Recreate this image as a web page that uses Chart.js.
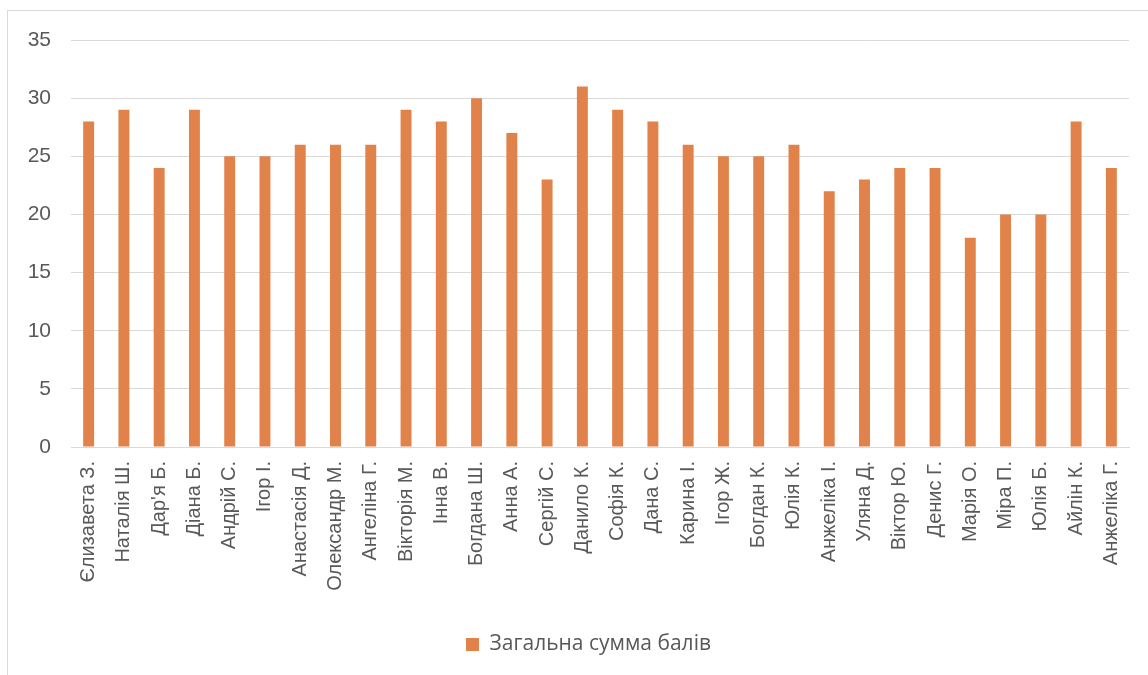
<!DOCTYPE html>
<html>
<head>
<meta charset="utf-8">
<script src="https://cdn.jsdelivr.net/npm/chart.js@4"></script>
<style>
  html, body { margin: 0; padding: 0; background: #fff; overflow: hidden; }
  #box {
    position: absolute; left: 7px; top: 10px;
    width: 1140px; height: 670px;
    border: 1px solid #d9d9d9;
  }
  #box canvas { display: block; }
</style>
</head>
<body>
<div id="box"><canvas id="myChart" width="1140" height="670"></canvas></div>
<script>
let names = ["Єлизавета З.", "Наталія Ш.", "Дар'я Б.", "Діана Б.", "Андрій С.", "Ігор І.",
  "Анастасія Д.", "Олександр М.", "Ангеліна Г.", "Вікторія М.", "Інна В.", "Богдана Ш.",
  "Анна А.", "Сергій С.", "Данило К.", "Софія К.", "Дана С.", "Карина І.", "Ігор Ж.",
  "Богдан К.", "Юлія К.", "Анжеліка І.", "Уляна Д.", "Віктор Ю.", "Денис Г.", "Марія О.",
  "Міра П.", "Юлія Б.", "Айлін К.", "Анжеліка Г."]
let scores = [28, 29, 24, 29, 25, 25, 26, 26, 26, 29, 28, 30, 27, 23, 31, 29, 28, 26, 25,
  25, 26, 22, 23, 24, 24, 18, 20, 20, 28, 24]
let yTicks = [0, 5, 10, 15, 20, 25, 30, 35]
let seriesName = 'Загальна сумма балів'

// legend sits a little right of centre
let legendShift = {
    id: 'legendShift',
    afterLayout: function (chart) {
        chart.legend.left += 20
        chart.legend.right += 20
    }
}

let ctx = document.getElementById('myChart').getContext('2d')

let chart = new Chart(ctx, {
    type: 'bar',
    data: {
        labels: names,
        datasets: [{
            label: seriesName,
            data: scores,
            backgroundColor: '#e0824a',
            barPercentage: 0.31,
            categoryPercentage: 1
        }]
    },
    options: {
        responsive: false,
        animation: false,
        layout: { padding: { top: 29, right: 19, bottom: 16, left: 0 } },
        plugins: {
            tooltip: { enabled: false },
            legend: {
                position: 'bottom',
                labels: {
                    boxWidth: 13, boxHeight: 13, padding: 10,
                    color: '#595959',
                    font: { family: 'Open Sans', size: 21 }
                }
            }
        },
        scales: {
            x: {
                grid: { display: false },
                border: { color: '#d9d9d9' },
                ticks: {
                    color: '#595959', minRotation: 90, maxRotation: 90, padding: 6,
                    font: { family: 'Liberation Sans', size: 20 }
                },
                afterFit: function (axis) { axis.height = 177 }
            },
            y: {
                min: 0, max: 35,
                afterBuildTicks: function (axis) {
                    axis.ticks = yTicks.map(v => ({ value: v }))
                },
                grid: { color: '#d9d9d9', drawTicks: false },
                border: { display: false },
                ticks: {
                    color: '#595959', padding: 20,
                    font: { family: 'Liberation Sans', size: 21 }
                },
                afterFit: function (axis) {
                    axis.width = 63
                    axis.paddingTop = 0
                    axis.paddingBottom = 0
                }
            }
        }
    },
    plugins: [legendShift]
})
</script>
</body>
</html>
